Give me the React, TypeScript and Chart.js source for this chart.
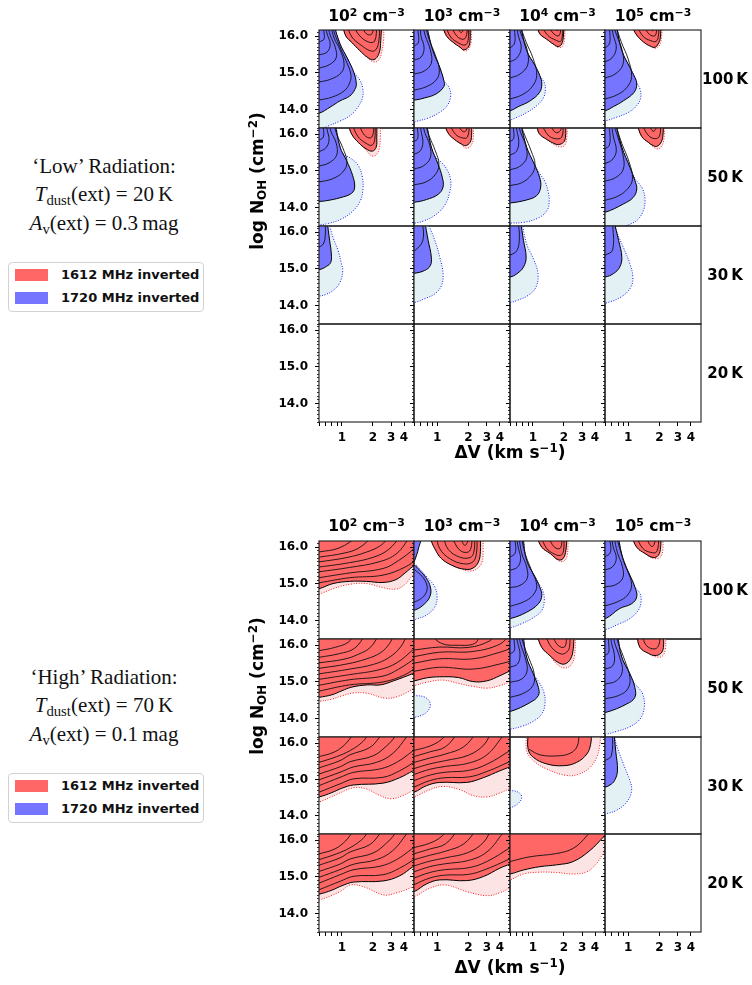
import { useEffect, useRef } from 'react';
import { Chart, registerables } from 'chart.js';

Chart.register(...registerables);
Chart.defaults.font.family = 'DejaVu Sans';

// ===== Axis ticks and labels =====
const densityExponents = [2, 3, 4, 5];
const temperatureLabels = ['100', '50', '30', '20'];
const xTickValues = [0.6, 0.7, 0.8, 0.9, 1, 2, 3, 4];
const xLabelledTicks = [1, 2, 3, 4];
const yMajorTicks = [14, 15, 16];
const yMinorTicks = [13.5, 13.6, 13.7, 13.8, 13.9, 14.1, 14.2, 14.3, 14.4, 14.5, 14.6, 14.7, 14.8, 14.9, 15.1, 15.2, 15.3, 15.4, 15.5, 15.6, 15.7, 15.8, 15.9, 16.1];
const xLimits = [0.6, 5];
const yLimits = [13.5, 16.17];
const legendLabels = ['1612 MHz inverted', '1720 MHz inverted'];
const radiationNames = ['\u2018Low\u2019 Radiation:', '\u2018High\u2019 Radiation:'];
const dustTemperatures = ['20', '70'];
const extinctions = ['0.3', '0.1'];

// ===== Contours: [dV (km/s), log N] pairs =====
// ---- Low radiation, 100 K ----
const t11BlueLight = [0.84,16.3, 0.96,15.79, 1.14,15.38, 1.3,15.03, 1.49,14.81, 1.59,14.59, 1.59,14.34, 1.43,14.07, 1.19,13.83, 0.96,13.69, 0.73,13.55, 0.63,13.47, 0.5,13.4, 0.5,16.3];
const t11Blue = [0.84,16.3, 0.96,15.79, 1.14,15.38, 1.3,15.03, 1.38,14.7, 1.33,14.54, 1.19,14.37, 0.96,14.24, 0.77,14.07, 0.6,13.9, 0.5,13.88, 0.5,16.3];
const t11BlueLines = [
  [0.6,14.26, 0.8,14.34, 1.05,14.51, 1.19,14.73, 1.22,14.97, 1.09,15.35, 0.94,15.76, 0.84,16.12, 0.82,16.3],
  [0.6,14.75, 0.78,14.83, 0.98,15.0, 1.05,15.24, 0.96,15.63, 0.84,15.95, 0.78,16.3],
  [0.6,15.13, 0.75,15.22, 0.88,15.41, 0.86,15.71, 0.77,16.03, 0.73,16.3],
  [0.6,15.49, 0.72,15.57, 0.77,15.79, 0.72,16.06, 0.69,16.3],
  [0.6,15.84, 0.67,15.92, 0.67,16.12, 0.66,16.3],
];
const t11RedLight = [1.02,16.3, 1.09,16.01, 1.25,15.83, 1.49,15.61, 1.78,15.41, 2.03,15.3, 2.28,15.35, 2.43,15.57, 2.54,15.9, 2.54,16.3];
const t11Red = [1.02,16.3, 1.09,16.01, 1.25,15.83, 1.49,15.61, 1.78,15.42, 1.99,15.36, 2.18,15.42, 2.33,15.61, 2.38,15.88, 2.43,16.3];
const t11RedLines = [
  [1.12,16.3, 1.25,15.98, 1.53,15.76, 1.9,15.6, 2.13,15.63, 2.28,15.87, 2.33,16.3],
  [1.28,16.3, 1.49,16.01, 1.82,15.84, 2.08,15.87, 2.18,16.3],
  [1.53,16.3, 1.74,16.06, 1.95,16.06, 2.03,16.3],
];

const t12BlueLight = [0.79,16.3, 0.91,15.61, 1.06,15.15, 1.16,14.79, 1.3,14.61, 1.35,14.38, 1.25,14.11, 1.06,13.93, 0.82,13.77, 0.63,13.68, 0.6,13.66, 0.5,13.66, 0.5,16.3];
const t12Blue = [0.79,16.3, 0.91,15.61, 1.06,15.15, 1.16,14.79, 1.16,14.63, 0.98,14.43, 0.76,14.32, 0.6,14.26, 0.5,14.26, 0.5,16.3];
const t12BlueLines = [
  [0.6,14.53, 0.78,14.62, 0.98,14.81, 1.05,15.08, 0.96,15.49, 0.84,15.9, 0.77,16.3],
  [0.6,14.97, 0.75,15.05, 0.88,15.27, 0.86,15.63, 0.77,16.01, 0.73,16.3],
  [0.6,15.35, 0.7,15.43, 0.75,15.68, 0.7,16.01, 0.69,16.3],
  [0.6,15.73, 0.66,15.82, 0.66,16.06, 0.64,16.3],
];
const t12RedLight = [1.12,16.3, 1.23,16.01, 1.43,15.83, 1.66,15.7, 1.82,15.6, 2.0,15.64, 2.12,15.85, 2.14,16.3];
const t12Red = [1.12,16.3, 1.23,16.01, 1.43,15.83, 1.66,15.7, 1.8,15.63, 1.99,15.7, 2.07,15.88, 2.07,16.3];
const t12RedLines = [
  [1.2,16.3, 1.35,15.98, 1.6,15.82, 1.85,15.76, 1.98,15.88, 2.0,16.3],
  [1.35,16.3, 1.55,16.0, 1.8,15.92, 1.92,16.05, 1.93,16.3],
  [1.55,16.3, 1.7,16.1, 1.85,16.3],
];

const t13BlueLight = [0.76,16.3, 0.87,15.61, 1.05,15.2, 1.17,14.92, 1.29,14.74, 1.32,14.56, 1.27,14.33, 1.09,14.11, 0.87,13.92, 0.7,13.79, 0.6,13.72, 0.5,13.71, 0.5,16.3];
const t13Blue = [0.76,16.3, 0.87,15.61, 1.05,15.2, 1.17,14.92, 1.22,14.7, 1.16,14.47, 0.94,14.24, 0.72,14.08, 0.6,13.97, 0.5,13.96, 0.5,16.3];
const t13BlueLines = [
  [0.6,14.29, 0.78,14.4, 0.98,14.62, 1.09,14.94, 1.0,15.41, 0.86,15.84, 0.75,16.3],
  [0.6,14.86, 0.75,14.97, 0.89,15.22, 0.88,15.63, 0.78,16.01, 0.72,16.3],
  [0.6,15.3, 0.7,15.41, 0.77,15.68, 0.72,16.03, 0.69,16.3],
  [0.6,15.68, 0.66,15.79, 0.67,16.03, 0.65,16.3],
];
const t13RedLight = [1.09,16.3, 1.17,16.06, 1.36,15.92, 1.57,15.79, 1.78,15.69, 1.95,15.74, 2.03,15.95, 2.05,16.3];
const t13Red = [1.09,16.3, 1.17,16.06, 1.36,15.92, 1.57,15.79, 1.76,15.72, 1.9,15.79, 1.97,15.97, 2.0,16.3];
const t13RedLines = [
  [1.2,16.3, 1.4,16.02, 1.65,15.9, 1.85,15.86, 1.93,16.0, 1.95,16.3],
  [1.4,16.3, 1.6,16.06, 1.8,16.02, 1.87,16.3],
  [1.6,16.3, 1.72,16.15, 1.8,16.3],
];

const t14BlueLight = [0.77,16.3, 0.87,15.61, 1.04,15.15, 1.16,14.88, 1.21,14.74, 1.3,14.56, 1.32,14.33, 1.21,14.11, 1.0,13.92, 0.77,13.79, 0.61,13.7, 0.5,13.69, 0.5,16.3];
const t14Blue = [0.77,16.3, 0.87,15.61, 1.04,15.15, 1.16,14.88, 1.21,14.7, 1.14,14.47, 0.9,14.24, 0.72,14.08, 0.6,13.97, 0.5,13.96, 0.5,16.3];
const t14BlueLines = [
  [0.6,14.29, 0.78,14.4, 0.97,14.6, 1.08,14.9, 1.0,15.38, 0.86,15.84, 0.76,16.3],
  [0.6,14.86, 0.75,14.97, 0.89,15.22, 0.88,15.6, 0.78,16.01, 0.72,16.3],
  [0.6,15.3, 0.7,15.41, 0.77,15.68, 0.72,16.03, 0.69,16.3],
  [0.6,15.68, 0.66,15.79, 0.67,16.03, 0.65,16.3],
];
const t14RedLight = [1.08,16.3, 1.21,16.03, 1.41,15.84, 1.63,15.73, 1.83,15.67, 1.99,15.74, 2.09,15.95, 2.11,16.3];
const t14Red = [1.08,16.3, 1.21,16.03, 1.41,15.84, 1.63,15.73, 1.81,15.7, 1.94,15.79, 2.04,15.97, 2.05,16.3];
const t14RedLines = [
  [1.2,16.3, 1.4,15.99, 1.65,15.88, 1.85,15.86, 1.95,16.0, 1.97,16.3],
  [1.4,16.3, 1.6,16.05, 1.82,16.02, 1.88,16.3],
  [1.6,16.3, 1.72,16.15, 1.8,16.3],
];

// ---- Low radiation, 50 K ----
const t21BlueLight = [0.86,16.3, 0.96,15.65, 1.03,15.47, 1.24,15.33, 1.44,15.15, 1.58,14.83, 1.6,14.5, 1.51,14.19, 1.28,13.91, 0.99,13.69, 0.74,13.57, 0.6,13.53, 0.5,13.52, 0.5,16.3];
const t21Blue = [0.86,16.3, 0.96,15.65, 1.11,15.28, 1.27,14.88, 1.33,14.56, 1.24,14.39, 0.96,14.27, 0.71,14.19, 0.6,14.17, 0.5,14.17, 0.5,16.3];
const t21BlueLines = [
  [0.6,14.7, 0.8,14.78, 1.02,14.97, 1.12,15.24, 1.02,15.63, 0.89,16.01, 0.84,16.3],
  [0.6,15.13, 0.75,15.22, 0.89,15.43, 0.88,15.76, 0.78,16.09, 0.76,16.3],
  [0.6,15.52, 0.7,15.63, 0.75,15.84, 0.72,16.12, 0.7,16.3],
  [0.6,15.84, 0.66,15.92, 0.66,16.17, 0.64,16.3],
];
const t21RedLight = [1.15,16.3, 1.24,16.01, 1.44,15.78, 1.7,15.58, 1.92,15.42, 2.12,15.42, 2.3,15.6, 2.36,15.92, 2.36,16.3];
const t21Red = [1.15,16.3, 1.24,16.01, 1.44,15.78, 1.72,15.6, 1.98,15.54, 2.15,15.65, 2.18,15.92, 2.18,16.3];
const t21RedLines = [
  [1.25,16.3, 1.42,15.95, 1.7,15.76, 1.95,15.7, 2.08,15.85, 2.1,16.3],
  [1.45,16.3, 1.65,15.98, 1.9,15.9, 2.02,16.05, 2.03,16.3],
];

const t22BlueLight = [0.79,16.3, 0.88,15.65, 0.98,15.35, 1.06,15.28, 1.23,15.06, 1.35,14.74, 1.32,14.42, 1.18,14.06, 0.95,13.79, 0.73,13.63, 0.61,13.58, 0.5,13.57, 0.5,16.3];
const t22Blue = [0.79,16.3, 0.88,15.65, 1.02,15.19, 1.12,14.83, 1.14,14.56, 1.02,14.36, 0.79,14.22, 0.61,14.15, 0.5,14.15, 0.5,16.3];
const t22BlueLines = [
  [0.6,14.62, 0.78,14.7, 0.96,14.9, 1.04,15.18, 0.96,15.55, 0.84,15.95, 0.77,16.3],
  [0.6,15.05, 0.74,15.14, 0.86,15.36, 0.85,15.7, 0.76,16.05, 0.73,16.3],
  [0.6,15.45, 0.69,15.55, 0.73,15.78, 0.7,16.1, 0.69,16.3],
  [0.6,15.8, 0.65,15.88, 0.65,16.12, 0.64,16.3],
];
const t22RedLight = [1.16,16.3, 1.29,16.01, 1.48,15.85, 1.7,15.72, 1.89,15.62, 2.09,15.67, 2.22,15.88, 2.22,16.3];
const t22Red = [1.16,16.3, 1.29,16.01, 1.48,15.85, 1.7,15.74, 1.87,15.69, 2.07,15.78, 2.14,15.97, 2.14,16.3];
const t22RedLines = [
  [1.3,16.3, 1.5,16.0, 1.75,15.9, 1.95,15.92, 2.05,16.3],
  [1.55,16.3, 1.75,16.08, 1.9,16.1, 1.95,16.3],
];

const t23BlueLight = [0.76,16.3, 0.87,15.65, 1.03,15.19, 1.17,14.92, 1.32,14.69, 1.41,14.42, 1.44,14.19, 1.37,13.92, 1.13,13.72, 0.81,13.6, 0.61,13.58, 0.5,13.57, 0.5,16.3];
const t23Blue = [0.76,16.3, 0.87,15.65, 1.03,15.19, 1.16,14.83, 1.19,14.56, 1.09,14.33, 0.87,14.21, 0.61,14.13, 0.5,14.13, 0.5,16.3];
const t23BlueLines = [
  [0.6,14.6, 0.78,14.68, 0.97,14.9, 1.05,15.18, 0.96,15.55, 0.84,15.95, 0.75,16.3],
  [0.6,15.03, 0.74,15.12, 0.87,15.35, 0.85,15.7, 0.76,16.05, 0.72,16.3],
  [0.6,15.43, 0.69,15.53, 0.73,15.78, 0.7,16.1, 0.68,16.3],
  [0.6,15.8, 0.65,15.88, 0.65,16.12, 0.64,16.3],
];
const t23RedLight = [1.09,16.3, 1.15,16.02, 1.38,15.85, 1.6,15.72, 1.78,15.66, 2.0,15.68, 2.12,15.85, 2.16,16.3];
const t23Red = [1.09,16.3, 1.15,16.02, 1.38,15.85, 1.6,15.75, 1.77,15.72, 1.98,15.78, 2.07,15.92, 2.08,16.3];
const t23RedLines = [
  [1.2,16.3, 1.4,15.98, 1.65,15.88, 1.9,15.92, 1.98,16.3],
  [1.45,16.3, 1.65,16.05, 1.85,16.1, 1.9,16.3],
];

const t24BlueLight = [0.76,16.3, 0.87,15.65, 1.04,15.1, 1.16,14.8, 1.3,14.62, 1.38,14.51, 1.45,14.24, 1.4,13.92, 1.21,13.65, 0.9,13.47, 0.85,13.4, 0.5,13.4, 0.5,16.3];
const t24Blue = [0.76,16.3, 0.87,15.65, 1.04,15.1, 1.16,14.74, 1.21,14.51, 1.12,14.28, 0.9,14.1, 0.61,13.88, 0.5,13.87, 0.5,16.3];
const t24BlueLines = [
  [0.6,14.2, 0.78,14.3, 0.98,14.5, 1.1,14.78, 1.02,15.25, 0.87,15.75, 0.75,16.3],
  [0.6,14.72, 0.76,14.82, 0.9,15.05, 0.89,15.45, 0.79,15.95, 0.72,16.3],
  [0.6,15.2, 0.7,15.3, 0.77,15.55, 0.72,15.95, 0.69,16.3],
  [0.6,15.6, 0.66,15.7, 0.67,15.98, 0.65,16.3],
];
const t24RedLight = [1.21,16.3, 1.35,15.94, 1.56,15.78, 1.74,15.66, 1.9,15.6, 2.08,15.66, 2.2,15.85, 2.24,16.3];
const t24Red = [1.21,16.3, 1.35,15.94, 1.56,15.78, 1.74,15.69, 1.88,15.67, 2.05,15.76, 2.15,15.94, 2.18,16.3];
const t24RedLines = [
  [1.35,16.3, 1.55,15.98, 1.8,15.88, 2.0,15.95, 2.05,16.3],
  [1.55,16.3, 1.75,16.08, 1.95,16.3],
];

// ---- Low radiation, 30 K ----
const t31BlueLight = [0.74,16.3, 0.82,15.86, 0.92,15.5, 0.99,15.14, 1.02,14.96, 0.96,14.64, 0.82,14.41, 0.69,14.3, 0.6,14.26, 0.5,14.26, 0.5,16.3];
const t31Blue = [0.72,16.3, 0.76,15.78, 0.79,15.41, 0.78,15.18, 0.71,15.07, 0.6,14.98, 0.5,14.98, 0.5,16.3];
const t31BlueLines = [[0.6,15.59, 0.66,15.68, 0.69,15.9, 0.69,16.3]];
const t32BlueLight = [0.8,16.3, 0.95,15.78, 1.06,15.32, 1.14,14.87, 1.1,14.55, 0.95,14.32, 0.76,14.19, 0.61,14.09, 0.5,14.08, 0.5,16.3];
const t32Blue = [0.76,16.3, 0.82,15.78, 0.88,15.32, 0.86,15.09, 0.76,14.96, 0.6,14.88, 0.5,14.88, 0.5,16.3];
const t32BlueLines = [[0.6,15.48, 0.7,15.67, 0.74,15.9, 0.72,16.3]];
const t33BlueLight = [0.78,16.3, 0.87,15.68, 1.01,15.28, 1.12,14.87, 1.07,14.5, 0.9,14.28, 0.7,14.14, 0.61,14.09, 0.5,14.08, 0.5,16.3];
const t33Blue = [0.76,16.3, 0.81,15.78, 0.86,15.32, 0.81,15.05, 0.7,14.87, 0.6,14.78, 0.5,14.78, 0.5,16.3];
const t33BlueLines = [[0.6,15.37, 0.7,15.5, 0.74,15.86, 0.72,16.3]];
const t34BlueLight = [0.75,16.3, 0.77,16.05, 0.9,15.59, 1.04,15.14, 1.11,14.78, 1.06,14.5, 0.87,14.25, 0.61,14.07, 0.5,14.06, 0.5,16.3];
const t34Blue = [0.73,16.3, 0.81,15.78, 0.87,15.32, 0.83,15.05, 0.72,14.87, 0.6,14.78, 0.5,14.78, 0.5,16.3];
const t34BlueLines = [[0.6,15.37, 0.71,15.52, 0.71,16.3]];

// ---- High radiation, 100 K ----
const b11RedLight = [0.5,16.3, 0.5,14.7, 0.6,14.72, 0.82,14.87, 1.19,14.99, 1.73,15.01, 2.5,14.9, 3.35,14.86, 4.1,14.99, 4.9,15.24, 5.5,15.3, 5.5,16.3];
const b11Red = [0.5,16.3, 0.5,14.85, 0.6,14.87, 0.82,15.01, 1.19,15.07, 1.73,15.07, 2.5,15.04, 3.35,15.12, 4.1,15.3, 4.9,15.48, 5.5,15.55, 5.5,16.3];
const b11RedLines = [
  [0.6,15.03, 1.19,15.17, 2.5,15.24, 4.1,15.46, 5.5,15.7],
  [0.6,15.17, 1.19,15.3, 2.5,15.42, 3.55,15.64, 5.0,15.96, 5.5,16.1],
  [0.6,15.33, 1.19,15.45, 2.28,15.6, 3.4,15.83, 4.6,16.3],
  [0.6,15.46, 1.19,15.58, 2.03,15.73, 2.84,15.94, 3.7,16.3],
  [0.6,15.6, 1.12,15.72, 1.74,15.87, 2.38,16.05, 2.9,16.3],
  [0.6,15.73, 1.05,15.84, 1.46,15.98, 2.0,16.3],
  [0.6,15.87, 0.94,15.98, 1.45,16.3],
];
const b12BlueLight = [0.5,15.55, 0.6,15.55, 0.7,15.37, 0.82,15.15, 0.95,14.92, 1.0,14.64, 0.95,14.37, 0.79,14.15, 0.63,14.04, 0.6,14.01, 0.5,14.0];
const b12Blue = [0.5,15.51, 0.6,15.51, 0.68,15.37, 0.79,15.15, 0.86,14.92, 0.86,14.69, 0.76,14.46, 0.6,14.28, 0.5,14.28];
const b12BlueWedge = [0.5,16.3, 0.69,16.3, 0.66,15.95, 0.62,15.7, 0.6,15.62, 0.5,15.58];
const b12BlueLines = [[0.6,14.5, 0.7,14.6, 0.78,14.75, 0.8,14.95, 0.72,15.2, 0.6,15.4]];
const b12RedLight = [0.86,16.3, 0.88,16.17, 0.95,15.96, 1.1,15.69, 1.43,15.49, 1.65,15.42, 2.07,15.35, 2.43,15.42, 2.7,15.6, 2.76,15.91, 2.76,16.3];
const b12Red = [0.86,16.3, 0.88,16.17, 0.95,15.96, 1.1,15.69, 1.43,15.49, 1.85,15.4, 2.2,15.43, 2.49,15.6, 2.6,15.88, 2.6,16.3];
const b12RedLines = [
  [0.98,16.3, 1.06,15.96, 1.32,15.69, 1.78,15.55, 2.2,15.6, 2.38,15.83, 2.42,16.3],
  [1.14,16.3, 1.28,15.94, 1.65,15.73, 2.07,15.72, 2.25,15.87, 2.3,16.3],
  [1.37,16.3, 1.65,15.92, 1.99,15.87, 2.14,16.05, 2.14,16.3],
  [1.65,16.3, 1.85,16.05, 2.05,16.3],
];
const b13BlueLight = [0.8,16.3, 0.87,15.64, 1.05,15.19, 1.17,14.96, 1.26,14.78, 1.29,14.55, 1.22,14.28, 1.01,14.08, 0.78,13.92, 0.61,13.81, 0.5,13.8, 0.5,16.3];
const b13Blue = [0.8,16.3, 0.87,15.64, 1.05,15.19, 1.17,14.9, 1.22,14.69, 1.13,14.46, 0.87,14.23, 0.61,14.06, 0.5,14.05, 0.5,16.3];
const b13BlueLines = [
  [0.6,14.39, 0.81,14.51, 1.0,14.69, 1.09,14.96, 0.97,15.37, 0.84,15.83, 0.77,16.3],
  [0.6,14.9, 0.75,14.96, 0.88,15.15, 0.87,15.46, 0.78,15.83, 0.73,16.3],
  [0.6,15.37, 0.71,15.46, 0.76,15.69, 0.72,16.0, 0.69,16.3],
  [0.6,15.73, 0.67,15.83, 0.68,16.05, 0.65,16.3],
];
const b13RedLight = [1.09,16.3, 1.22,16.0, 1.47,15.83, 1.76,15.64, 2.0,15.62, 2.15,15.78, 2.2,16.3];
const b13Red = [1.09,16.3, 1.22,16.0, 1.47,15.83, 1.76,15.66, 1.96,15.69, 2.09,15.92, 2.13,16.3];
const b13RedLines = [
  [1.2,16.3, 1.35,15.98, 1.6,15.82, 1.85,15.78, 1.98,15.9, 2.0,16.3],
  [1.4,16.3, 1.62,16.0, 1.85,15.98, 1.92,16.3],
];
const b14BlueLight = [0.8,16.3, 0.9,15.64, 1.04,15.24, 1.16,14.92, 1.3,14.74, 1.33,14.51, 1.25,14.28, 1.04,14.06, 0.8,13.9, 0.61,13.76, 0.5,13.75, 0.5,16.3];
const b14Blue = [0.8,16.3, 0.9,15.64, 1.04,15.24, 1.16,14.92, 1.21,14.65, 1.08,14.46, 0.83,14.33, 0.61,14.06, 0.5,14.05, 0.5,16.3];
const b14BlueLines = [
  [0.6,14.4, 0.8,14.52, 0.99,14.7, 1.08,14.98, 0.98,15.38, 0.86,15.83, 0.77,16.3],
  [0.6,14.92, 0.76,14.98, 0.89,15.17, 0.88,15.48, 0.79,15.85, 0.73,16.3],
  [0.6,15.38, 0.71,15.47, 0.77,15.7, 0.72,16.0, 0.69,16.3],
  [0.6,15.74, 0.67,15.84, 0.68,16.05, 0.65,16.3],
];
const b14RedLight = [1.08,16.3, 1.21,16.0, 1.45,15.83, 1.74,15.7, 2.02,15.72, 2.15,15.92, 2.15,16.3];
const b14Red = [1.08,16.3, 1.21,16.0, 1.45,15.83, 1.74,15.72, 1.95,15.78, 2.05,16.0, 2.05,16.3];
const b14RedLines = [
  [1.2,16.3, 1.38,15.97, 1.65,15.86, 1.88,15.88, 1.98,16.3],
  [1.45,16.3, 1.7,16.02, 1.88,16.3],
];

// ---- High radiation, 50 K ----
const b21RedLight = [0.5,16.3, 0.5,14.45, 0.6,14.47, 0.8,14.53, 1.0,14.62, 1.3,14.7, 1.76,14.69, 2.6,14.56, 3.45,14.6, 4.9,14.81, 5.5,14.9, 5.5,16.3];
const b21Red = [0.5,16.3, 0.5,14.55, 0.6,14.58, 0.8,14.65, 1.0,14.76, 1.25,14.86, 1.76,14.92, 2.36,14.92, 3.17,15.03, 4.9,15.23, 5.5,15.3, 5.5,16.3];
const b21RedLines = [
  [0.6,14.75, 1.19,14.92, 2.5,15.0, 4.1,15.2, 5.5,15.45],
  [0.6,14.91, 1.19,15.06, 2.5,15.16, 3.55,15.35, 5.5,15.7],
  [0.6,15.07, 1.19,15.2, 2.28,15.33, 3.4,15.52, 5.0,15.9, 5.5,16.0],
  [0.6,15.22, 1.19,15.35, 2.03,15.48, 2.84,15.66, 3.7,15.95, 4.3,16.3],
  [0.6,15.37, 1.12,15.49, 1.74,15.63, 2.38,15.8, 2.9,16.05, 3.2,16.3],
  [0.6,15.52, 1.05,15.62, 1.46,15.76, 1.9,15.95, 2.3,16.3],
  [0.6,15.67, 0.94,15.77, 1.33,15.92, 1.7,16.3],
  [0.6,15.85, 0.85,15.94, 1.15,16.08, 1.3,16.3],
];
const b22BlueLight = [0.5,14.64, 0.6,14.63, 0.77,14.58, 0.86,14.4, 0.79,14.17, 0.6,14.03, 0.5,14.02];
const b22RedLight = [0.5,16.3, 0.5,14.88, 0.6,14.9, 0.79,14.99, 1.14,15.05, 1.6,14.96, 2.2,14.88, 3.0,14.83, 4.0,14.9, 5.0,15.0, 5.5,15.05, 5.5,16.3];
const b22Red = [0.5,16.3, 0.5,15.02, 0.6,15.03, 0.79,15.11, 1.06,15.14, 1.6,15.12, 2.2,15.01, 3.0,15.03, 4.0,15.17, 5.0,15.3, 5.5,15.35, 5.5,16.3];
const b22RedLines = [
  [0.6,15.29, 1.06,15.4, 2.2,15.35, 4.0,15.49, 5.5,15.6],
  [0.6,15.51, 1.06,15.63, 2.2,15.63, 4.0,15.81, 5.5,15.95],
  [0.6,15.69, 1.06,15.81, 2.2,15.83, 4.0,16.03, 5.0,16.3],
  [0.6,15.87, 1.06,15.95, 2.0,15.94, 3.2,16.12, 3.6,16.3],
  [0.85,16.3, 1.1,16.05, 1.55,16.0, 2.3,16.05, 2.6,16.3],
];
const b23BlueLight = [0.8,16.3, 0.87,15.67, 1.01,15.22, 1.15,14.99, 1.28,14.71, 1.31,14.4, 1.22,14.13, 1.01,13.93, 0.78,13.79, 0.61,13.72, 0.5,13.71, 0.5,16.3];
const b23Blue = [0.8,16.3, 0.87,15.67, 1.01,15.22, 1.13,14.85, 1.13,14.63, 0.94,14.44, 0.61,14.2, 0.5,14.2, 0.5,16.3];
const b23BlueLines = [
  [0.6,14.58, 0.81,14.69, 1.0,14.9, 1.03,15.22, 0.92,15.63, 0.81,16.03, 0.77,16.3],
  [0.6,14.99, 0.78,15.08, 0.88,15.31, 0.84,15.67, 0.76,16.03, 0.73,16.3],
  [0.6,15.4, 0.71,15.49, 0.75,15.76, 0.71,16.08, 0.69,16.3],
  [0.6,15.76, 0.66,15.85, 0.66,16.08, 0.65,16.3],
];
const b23RedLight = [1.09,16.3, 1.22,15.94, 1.47,15.71, 1.7,15.49, 2.04,15.38, 2.35,15.47, 2.53,15.71, 2.59,16.3];
const b23Red = [1.09,16.3, 1.22,15.94, 1.47,15.71, 1.76,15.53, 2.04,15.49, 2.32,15.63, 2.46,15.9, 2.5,16.3];
const b23RedLines = [
  [1.31,16.3, 1.52,15.94, 1.9,15.76, 2.19,15.85, 2.28,16.03, 2.28,16.3],
  [1.52,16.3, 1.76,15.99, 2.04,15.96, 2.13,16.3],
];
const b24BlueLight = [0.79,16.3, 0.87,15.67, 1.04,15.22, 1.16,14.95, 1.25,14.85, 1.38,14.67, 1.43,14.31, 1.3,13.99, 1.04,13.78, 0.77,13.65, 0.62,13.58, 0.5,13.56, 0.5,16.3];
const b24Blue = [0.79,16.3, 0.87,15.67, 1.04,15.22, 1.16,14.85, 1.16,14.58, 0.97,14.4, 0.61,14.17, 0.5,14.17, 0.5,16.3];
const b24BlueLines = [
  [0.6,14.54, 0.81,14.63, 0.99,14.81, 1.04,15.12, 0.93,15.58, 0.81,16.03, 0.76,16.3],
  [0.6,14.94, 0.77,15.03, 0.88,15.29, 0.83,15.67, 0.74,16.08, 0.72,16.3],
  [0.6,15.35, 0.71,15.44, 0.74,15.71, 0.69,16.08, 0.68,16.3],
  [0.6,15.72, 0.65,15.8, 0.65,16.08, 0.64,16.3],
];
const b24RedLight = [1.21,16.3, 1.3,15.94, 1.56,15.78, 1.81,15.69, 2.1,15.69, 2.26,15.85, 2.31,16.3];
const b24Red = [1.21,16.3, 1.3,15.94, 1.56,15.78, 1.81,15.72, 2.06,15.78, 2.18,15.94, 2.18,16.3];
const b24RedLines = [[1.35,16.3, 1.5,15.99, 1.81,15.9, 1.98,16.03, 2.02,16.3]];

// ---- High radiation, 30 K ----
const b31RedLight = [0.5,16.3, 0.5,14.36, 0.6,14.38, 0.89,14.59, 1.29,14.77, 1.73,14.74, 2.33,14.56, 3.0,14.47, 3.9,14.56, 4.9,14.7, 5.5,14.78, 5.5,16.3];
const b31Red = [0.5,16.3, 0.5,14.5, 0.6,14.52, 0.8,14.64, 1.0,14.76, 1.3,14.85, 2.5,14.9, 3.63,15.05, 4.9,15.24, 5.5,15.3, 5.5,16.3];
const b31RedLines = [
  [0.6,14.65, 0.96,14.88, 1.31,15.02, 2.5,15.06, 3.63,15.24, 5.5,15.55],
  [0.6,14.83, 0.96,15.06, 1.31,15.2, 2.33,15.29, 3.38,15.47, 4.9,15.79, 5.5,15.9],
  [0.6,14.99, 0.96,15.2, 1.31,15.35, 2.16,15.47, 3.12,15.72, 4.23,16.17, 4.5,16.3],
  [0.6,15.15, 0.96,15.35, 1.2,15.49, 2.0,15.65, 2.7,15.92, 3.25,16.17, 3.4,16.3],
  [0.6,15.32, 0.96,15.52, 1.2,15.68, 1.86,15.88, 2.33,16.17, 2.5,16.3],
  [0.6,15.47, 0.89,15.63, 1.19,15.79, 1.55,16.01, 1.73,16.17, 1.8,16.3],
  [0.6,15.63, 0.82,15.74, 1.03,15.92, 1.23,16.17, 1.3,16.3],
];
const b32RedLight = [0.5,16.3, 0.5,14.5, 0.6,14.52, 0.85,14.72, 1.14,14.81, 1.65,14.72, 2.2,14.56, 3.0,14.52, 4.0,14.63, 5.0,14.75, 5.5,14.8, 5.5,16.3];
const b32Red = [0.5,16.3, 0.5,14.63, 0.6,14.65, 0.79,14.83, 1.06,14.92, 1.92,14.92, 2.77,15.05, 4.0,15.24, 5.0,15.35, 5.5,15.4, 5.5,16.3];
const b32RedLines = [
  [0.6,14.79, 0.85,14.97, 1.2,15.05, 2.0,15.07, 3.0,15.22, 5.5,15.55],
  [0.6,14.97, 0.85,15.12, 1.2,15.2, 2.0,15.25, 3.0,15.42, 5.0,15.8, 5.5,15.9],
  [0.6,15.14, 0.85,15.28, 1.2,15.36, 2.0,15.45, 3.0,15.68, 4.2,16.17, 4.5,16.3],
  [0.6,15.3, 0.85,15.43, 1.2,15.52, 2.0,15.67, 2.8,15.95, 3.3,16.3],
  [0.6,15.47, 0.85,15.59, 1.2,15.7, 1.8,15.9, 2.4,16.3],
  [0.6,15.63, 0.85,15.76, 1.2,15.9, 1.6,16.3],
  [0.6,15.8, 0.85,15.92, 1.1,16.1, 1.25,16.3],
];
const b33BlueLight = [0.5,14.72, 0.6,14.7, 0.72,14.65, 0.78,14.52, 0.72,14.34, 0.61,14.23, 0.5,14.22];
const b33RedLight = [0.87,16.3, 0.87,15.79, 1.01,15.52, 1.36,15.29, 2.13,15.11, 2.8,15.15, 3.57,15.33, 4.15,15.61, 4.46,15.97, 4.53,16.3];
const b33Red = [0.9,16.3, 0.9,15.83, 1.01,15.61, 1.36,15.43, 1.97,15.38, 2.65,15.47, 3.33,15.7, 3.63,15.97, 3.7,16.3];
const b33RedLines = [[0.92,15.83, 1.17,15.68, 1.7,15.65, 2.29,15.72, 2.69,15.92, 2.81,16.3]];
const b34BlueLight = [0.73,16.3, 0.77,15.97, 0.9,15.43, 1.04,14.97, 1.08,14.7, 0.97,14.38, 0.77,14.15, 0.61,14.06, 0.5,14.05, 0.5,16.3];
const b34Blue = [0.73,16.3, 0.76,15.79, 0.79,15.24, 0.74,14.97, 0.67,14.85, 0.6,14.79, 0.5,14.79, 0.5,16.3];
const b34BlueLines = [[0.6,15.52, 0.69,15.65, 0.71,16.3]];

// ---- High radiation, 20 K ----
const b41RedLight = [0.5,16.3, 0.5,14.35, 0.6,14.37, 0.96,14.6, 1.2,14.78, 1.63,14.73, 2.55,14.51, 3.42,14.57, 4.9,14.73, 5.5,14.8, 5.5,16.3];
const b41Red = [0.5,16.3, 0.5,14.51, 0.6,14.53, 0.8,14.64, 1.0,14.76, 1.3,14.86, 2.5,14.89, 3.63,15.03, 4.9,15.28, 5.5,15.35, 5.5,16.3];
const b42RedLight = [0.5,16.3, 0.5,14.44, 0.6,14.46, 0.85,14.69, 1.2,14.78, 1.92,14.6, 3.0,14.49, 4.0,14.57, 5.0,14.7, 5.5,14.75, 5.5,16.3];
const b42Red = [0.5,16.3, 0.5,14.58, 0.6,14.6, 0.79,14.81, 1.06,14.92, 1.92,14.9, 2.77,15.01, 4.0,15.24, 5.0,15.35, 5.5,15.4, 5.5,16.3];
const b43RedLight = [0.5,16.4, 0.5,14.9, 0.6,14.92, 0.81,15.08, 1.17,15.13, 1.7,15.12, 2.46,15.08, 3.33,15.14, 4.15,15.37, 4.8,15.63, 5.5,15.8, 5.5,16.4];
const b43Red = [0.5,16.4, 0.5,15.07, 0.6,15.08, 0.81,15.19, 1.17,15.28, 1.7,15.33, 2.46,15.42, 3.57,15.72, 4.8,16.08, 5.5,16.25, 5.5,16.4];
const b43RedLines = [[0.6,15.42, 0.94,15.55, 1.7,15.64, 2.46,15.78, 3.33,16.12, 3.6,16.3]];

// ===== Panel tables (row = temperature, col = density) =====
const lowGrid: any[][] = [
  [
    { blueLight: [t11BlueLight], blue: [t11Blue], blueLines: t11BlueLines, redLight: [t11RedLight], red: [t11Red], redLines: t11RedLines },
    { blueLight: [t12BlueLight], blue: [t12Blue], blueLines: t12BlueLines, redLight: [t12RedLight], red: [t12Red], redLines: t12RedLines },
    { blueLight: [t13BlueLight], blue: [t13Blue], blueLines: t13BlueLines, redLight: [t13RedLight], red: [t13Red], redLines: t13RedLines },
    { blueLight: [t14BlueLight], blue: [t14Blue], blueLines: t14BlueLines, redLight: [t14RedLight], red: [t14Red], redLines: t14RedLines },
  ],
  [
    { blueLight: [t21BlueLight], blue: [t21Blue], blueLines: t21BlueLines, redLight: [t21RedLight], red: [t21Red], redLines: t21RedLines },
    { blueLight: [t22BlueLight], blue: [t22Blue], blueLines: t22BlueLines, redLight: [t22RedLight], red: [t22Red], redLines: t22RedLines },
    { blueLight: [t23BlueLight], blue: [t23Blue], blueLines: t23BlueLines, redLight: [t23RedLight], red: [t23Red], redLines: t23RedLines },
    { blueLight: [t24BlueLight], blue: [t24Blue], blueLines: t24BlueLines, redLight: [t24RedLight], red: [t24Red], redLines: t24RedLines },
  ],
  [
    { blueLight: [t31BlueLight], blue: [t31Blue], blueLines: t31BlueLines },
    { blueLight: [t32BlueLight], blue: [t32Blue], blueLines: t32BlueLines },
    { blueLight: [t33BlueLight], blue: [t33Blue], blueLines: t33BlueLines },
    { blueLight: [t34BlueLight], blue: [t34Blue], blueLines: t34BlueLines },
  ],
  [{}, {}, {}, {}],
];

const highGrid: any[][] = [
  [
    { redLight: [b11RedLight], red: [b11Red], redLines: b11RedLines },
    { blueLight: [b12BlueLight], blue: [b12Blue, b12BlueWedge], blueLines: b12BlueLines, redLight: [b12RedLight], red: [b12Red], redLines: b12RedLines },
    { blueLight: [b13BlueLight], blue: [b13Blue], blueLines: b13BlueLines, redLight: [b13RedLight], red: [b13Red], redLines: b13RedLines },
    { blueLight: [b14BlueLight], blue: [b14Blue], blueLines: b14BlueLines, redLight: [b14RedLight], red: [b14Red], redLines: b14RedLines },
  ],
  [
    { redLight: [b21RedLight], red: [b21Red], redLines: b21RedLines },
    { blueLight: [b22BlueLight], redLight: [b22RedLight], red: [b22Red], redLines: b22RedLines },
    { blueLight: [b23BlueLight], blue: [b23Blue], blueLines: b23BlueLines, redLight: [b23RedLight], red: [b23Red], redLines: b23RedLines },
    { blueLight: [b24BlueLight], blue: [b24Blue], blueLines: b24BlueLines, redLight: [b24RedLight], red: [b24Red], redLines: b24RedLines },
  ],
  [
    { redLight: [b31RedLight], red: [b31Red], redLines: b31RedLines },
    { redLight: [b32RedLight], red: [b32Red], redLines: b32RedLines },
    { blueLight: [b33BlueLight], redLight: [b33RedLight], red: [b33Red], redLines: b33RedLines },
    { blueLight: [b34BlueLight], blue: [b34Blue], blueLines: b34BlueLines },
  ],
  [
    { redLight: [b41RedLight], red: [b41Red], redLines: b31RedLines },
    { redLight: [b42RedLight], red: [b42Red], redLines: b32RedLines },
    { redLight: [b43RedLight], red: [b43Red], redLines: b43RedLines },
    {},
  ],
];

// ===== Layout / style =====
const COL_LEFT = [319, 414, 510, 605];
const COL_W = [95, 96, 95, 96];
const GRID_ROW_TOP = [[30, 128, 226, 324], [541, 639, 737, 834]];
const GRID_ROW_H = [[98, 98, 98, 98], [98, 98, 97, 98]];
const GRID_TITLE_Y = [16, 526];
const GRID_YLABEL_Y = [181, 686];
const GRID_XLABEL_Y = [453, 968];
const GRID_TEXT_TOP = [153, 664];
const GRID_LEGEND_TOP = [262, 773];

const RED_FILL = 'rgb(255,102,102)';
const BLUE_FILL = 'rgb(117,117,255)';
const RED_LIGHT = '#fde4e4';
const BLUE_LIGHT = '#e3f1f5';

const STYLES: Record<string, any> = {
  blueLight: { backgroundColor: BLUE_LIGHT, borderColor: '#1a1aff', borderDash: [1, 1.6], borderWidth: 1, fill: 'shape' },
  redLight: { backgroundColor: RED_LIGHT, borderColor: '#ff1a1a', borderDash: [1, 1.6], borderWidth: 1, fill: 'shape' },
  blue: { backgroundColor: BLUE_FILL, borderColor: '#000', borderWidth: 1, fill: 'shape' },
  red: { backgroundColor: RED_FILL, borderColor: '#000', borderWidth: 1, fill: 'shape' },
  line: { borderColor: '#111', borderWidth: 0.9, fill: false },
};

function toPoints(a: number[]) {
  const out: { x: number; y: number }[] = [];
  for (let i = 0; i < a.length; i += 2) out.push({ x: a[i], y: a[i + 1] });
  return out;
}

function buildDatasets(p: any) {
  const layers: any[] = [];
  const add = (list: number[][] | undefined, style: any) => {
    (list || []).forEach((a) =>
      layers.push({ ...style, data: toPoints(a), pointRadius: 0, clip: 0, tension: 0.4 })
    );
  };
  add(p.blueLight, STYLES.blueLight);
  add(p.redLight, STYLES.redLight);
  add(p.blue, STYLES.blue);
  add(p.red, STYLES.red);
  add(p.blueLines, STYLES.line);
  add(p.redLines, STYLES.line);
  return layers.reverse(); // first dataset is drawn on top
}

const framePlugin = {
  id: 'panelFrame',
  afterDraw(chart: any) {
    const { ctx, chartArea: a } = chart;
    ctx.save();
    ctx.strokeStyle = '#1a1a1a';
    ctx.lineWidth = 1.1;
    ctx.strokeRect(a.left, a.top, a.right - a.left, a.bottom - a.top);
    ctx.restore();
  },
};

const tickFont = { family: 'DejaVu Sans', size: 12, weight: 'bold' as const };
const PT = 8;

function Panel({ content, left, top, width, height, yLabels, bottomRow }: any) {
  const ref = useRef<HTMLCanvasElement>(null);
  const YW = yLabels ? 48 : 5;
  const XH = bottomRow ? 24 : 0;
  const cw = YW + width + 1;
  const ch = PT + height + (bottomRow ? XH : 1);

  useEffect(() => {
    const chart = new Chart(ref.current as HTMLCanvasElement, {
      type: 'line',
      data: { datasets: buildDatasets(content) },
      options: {
        animation: false,
        responsive: false,
        events: [],
        layout: { autoPadding: false, padding: { top: PT, right: 1, left: 0, bottom: bottomRow ? 0 : 1 } },
        plugins: { legend: { display: false }, tooltip: { enabled: false } },
        elements: { point: { radius: 0 }, line: { capBezierPoints: false } },
        scales: {
          x: {
            type: 'logarithmic',
            display: bottomRow,
            bounds: 'data',
            afterBuildTicks: (s: any) => {
              s.min = xLimits[0];
              s.max = xLimits[1];
              s.ticks = xTickValues.map((v) => ({ value: v }));
            },
            afterFit: (s: any) => { s.height = XH; s.paddingLeft = 0; s.paddingRight = 0; },
            ticks: {
              autoSkip: false, maxRotation: 0, minRotation: 0, padding: 5, color: '#000', font: tickFont,
              callback: (v: any) => (xLabelledTicks.includes(Number(v)) ? String(v) : ''),
            },
            grid: { drawOnChartArea: false, tickLength: 4, color: '#000', lineWidth: 1 },
            border: { display: false },
          },
          y: {
            type: 'linear',
            position: 'left',
            bounds: 'data',
            min: yLimits[0],
            max: yLimits[1],
            afterBuildTicks: (s: any) => {
              s.min = yLimits[0];
              s.max = yLimits[1];
              s.ticks = yMajorTicks.map((v) => ({ value: v }));
            },
            afterFit: (s: any) => { s.width = YW; s.paddingTop = 0; s.paddingBottom = 0; },
            ticks: {
              display: yLabels, autoSkip: false, padding: 7, color: '#000', font: tickFont,
              callback: (v: any) => Number(v).toFixed(1),
            },
            grid: { drawOnChartArea: false, tickLength: 4, color: '#000', lineWidth: 1 },
            border: { display: false },
          },
          yMinor: {
            type: 'linear',
            position: 'left',
            weight: -1,
            bounds: 'data',
            min: yLimits[0],
            max: yLimits[1],
            afterBuildTicks: (s: any) => {
              s.min = yLimits[0];
              s.max = yLimits[1];
              s.ticks = yMinorTicks.map((v) => ({ value: v }));
            },
            afterFit: (s: any) => { s.width = 0; s.paddingTop = 0; s.paddingBottom = 0; },
            ticks: { display: false },
            grid: { drawOnChartArea: false, tickLength: 2, color: '#000', lineWidth: 0.8 },
            border: { display: false },
          },
        },
      } as any,
      plugins: [framePlugin],
    });
    return () => chart.destroy();
  }, []);

  return (
    <canvas
      ref={ref}
      width={cw}
      height={ch}
      style={{ position: 'absolute', left: left - YW, top: top - PT, width: cw, height: ch }}
    />
  );
}

const supStyle: any = { fontSize: '0.7em', verticalAlign: 'baseline', position: 'relative', top: '-0.5em' };
const subStyle: any = { fontSize: '0.7em', verticalAlign: 'baseline', position: 'relative', top: '0.28em' };
const boldFont = 'DejaVu Sans';

function Grid({ g }: { g: number }) {
  const grid = g === 0 ? lowGrid : highGrid;
  const els: any[] = [];
  grid.forEach((row, r) =>
    row.forEach((content, c) => {
      els.push(
        <Panel
          key={`p${g}-${r}-${c}`}
          content={content}
          left={COL_LEFT[c]}
          top={GRID_ROW_TOP[g][r]}
          width={COL_W[c]}
          height={GRID_ROW_H[g][r]}
          yLabels={c === 0}
          bottomRow={r === 3}
        />
      );
    })
  );
  densityExponents.forEach((e, c) => {
    els.push(
      <div
        key={`h${g}-${c}`}
        style={{
          position: 'absolute', left: COL_LEFT[c] + COL_W[c] / 2 - 60, width: 120, top: GRID_TITLE_Y[g] - 10,
          height: 20, lineHeight: '20px', textAlign: 'center', fontFamily: boldFont, fontWeight: 'bold', fontSize: 15.5, whiteSpace: 'nowrap',
        }}
      >
        10<span style={supStyle}>{e}</span> cm<span style={supStyle}>{'\u2212'}3</span>
      </div>
    );
  });
  temperatureLabels.forEach((t, r) => {
    const cy = GRID_ROW_TOP[g][r] + GRID_ROW_H[g][r] / 2;
    els.push(
      <div
        key={`t${g}-${r}`}
        style={{
          position: 'absolute', left: 695, width: 60, top: cy - 10, height: 20, lineHeight: '20px',
          textAlign: 'center', fontFamily: boldFont, fontWeight: 'bold', fontSize: 15, whiteSpace: 'nowrap',
        }}
      >
        {t}{'\u2009'}K
      </div>
    );
  });
  els.push(
    <div
      key={`yl${g}`}
      style={{
        position: 'absolute', left: 258, top: GRID_YLABEL_Y[g], transform: 'translate(-50%, -50%) rotate(-90deg)',
        whiteSpace: 'nowrap', fontFamily: boldFont, fontWeight: 'bold', fontSize: 17, lineHeight: '20px',
      }}
    >
      log N<span style={subStyle}>OH</span> (cm<span style={supStyle}>{'\u2212'}2</span>)
    </div>
  );
  els.push(
    <div
      key={`xl${g}`}
      style={{
        position: 'absolute', left: 510, top: GRID_XLABEL_Y[g], transform: 'translate(-50%, -50%)',
        whiteSpace: 'nowrap', fontFamily: boldFont, fontWeight: 'bold', fontSize: 17, lineHeight: '20px',
      }}
    >
      {'\u0394'}V (km s<span style={supStyle}>{'\u2212'}1</span>)
    </div>
  );
  els.push(
    <div
      key={`desc${g}`}
      style={{
        position: 'absolute', left: 4, width: 200, top: GRID_TEXT_TOP[g], textAlign: 'center',
        fontFamily: 'Liberation Serif', fontSize: 21, lineHeight: '27.5px', color: '#111', whiteSpace: 'nowrap',
      }}
    >
      <div>{radiationNames[g]}</div>
      <div>
        <i>T</i><span style={{ fontSize: '0.7em', position: 'relative', top: '0.3em' }}>dust</span>(ext) = {dustTemperatures[g]}{'\u2009'}K
      </div>
      <div>
        <i>A</i><span style={{ fontSize: '0.7em', position: 'relative', top: '0.3em' }}>v</span>(ext) = {extinctions[g]}{'\u2009'}mag
      </div>
    </div>
  );
  const lt = GRID_LEGEND_TOP[g];
  els.push(
    <div
      key={`leg${g}`}
      style={{
        position: 'absolute', left: 8, top: lt, width: 196, height: 50, boxSizing: 'border-box',
        border: '1px solid #d2d2d2', borderRadius: 4, background: '#fff',
      }}
    >
      {legendLabels.map((lab, i) => (
        <div key={lab} style={{ position: 'absolute', left: 0, top: 6 + i * 22.5, height: 13, width: 196 }}>
          <div style={{ position: 'absolute', left: 6, top: 0, width: 33, height: 12, background: i === 0 ? RED_FILL : BLUE_FILL }} />
          <div
            style={{
              position: 'absolute', left: 52, top: -3, lineHeight: '18px', fontFamily: boldFont, fontWeight: 'bold',
              fontSize: 13, color: '#111', whiteSpace: 'nowrap',
            }}
          >
            {lab}
          </div>
        </div>
      ))}
    </div>
  );
  return <>{els}</>;
}

export default function App() {
  return (
    <div style={{ position: 'absolute', left: 0, top: 0, width: 752, height: 985, background: '#fff', overflow: 'hidden' }}>
      <Grid g={0} />
      <Grid g={1} />
    </div>
  );
}
